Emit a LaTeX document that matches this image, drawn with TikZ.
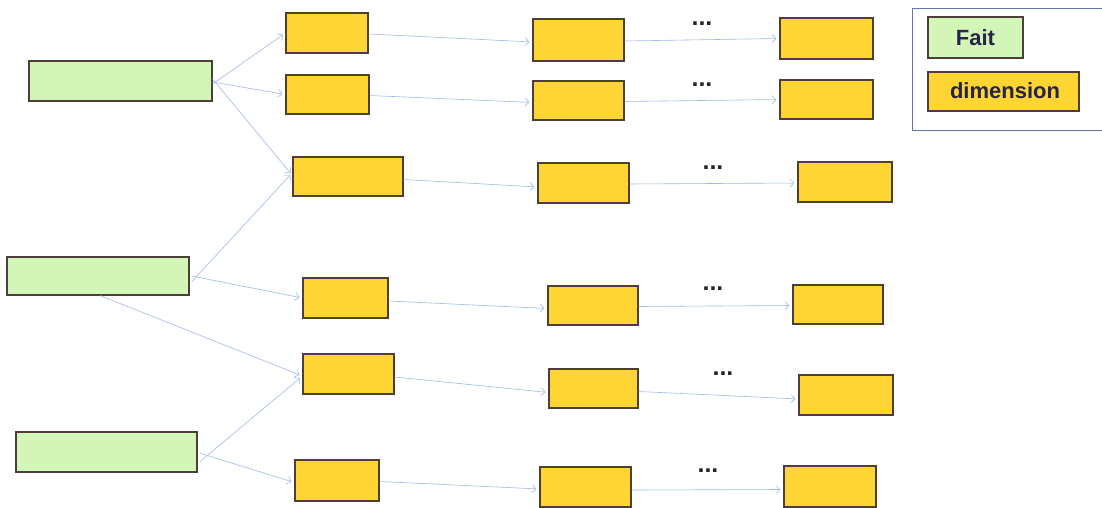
\documentclass[tikz,border=0pt]{standalone}
\usepackage{fontspec}
\newfontfamily\legfont{Liberation Sans}
\usetikzlibrary{arrows.meta}
\definecolor{faitgreen}{RGB}{212,245,184}
\definecolor{dimyellow}{RGB}{255,213,52}
\definecolor{boxline}{RGB}{78,62,56}
\definecolor{arrowblue}{RGB}{160,186,232}
\definecolor{legline}{RGB}{105,115,178}
\definecolor{legtext}{RGB}{38,36,72}
\tikzset{
  base/.style={draw=boxline, line width=1.1pt, inner sep=0pt, rectangle},
  fait/.style={base, fill=faitgreen},
  dim/.style={base, fill=dimyellow},
  conn/.style={draw=arrowblue, line width=0.6pt, -{Straight Barb[length=4pt,width=8pt,line width=0.6pt]}, shorten >=3pt},
  dots/.style={font=\legfont\bfseries\fontsize{25}{25}\selectfont, inner sep=0pt, text=black!85},
  legtxt/.style={font=\legfont\bfseries\fontsize{22}{24}\selectfont, text=legtext}
}
\newcommand{\bx}[6]{\node[#1, minimum width=#5pt, minimum height=#6pt] (#2) at (#3,#4) {};}
\begin{document}
\begin{tikzpicture}[x=1pt,y=-1pt]
\useasboundingbox (0,0) rectangle (1102,508);
\fill[white] (0,0) rectangle (1102,508);
% Fact boxes
\bx{fait}{G1}{120.5}{81}{183}{40}
\bx{fait}{G2}{98}{276}{182}{38}
\bx{fait}{G3}{106.5}{452}{181}{40}
% Column 1
\bx{dim}{Y11}{327}{33}{82}{40}
\bx{dim}{Y12}{327.5}{94.5}{83}{39}
\bx{dim}{Y13}{348}{176.5}{110}{39}
\bx{dim}{Y14}{345.5}{298}{85}{40}
\bx{dim}{Y15}{348.5}{374}{91}{40}
\bx{dim}{Y16}{337}{480.5}{84}{41}
% Column 2
\bx{dim}{Y21}{578.5}{40}{91}{42}
\bx{dim}{Y22}{578.5}{100.5}{91}{39}
\bx{dim}{Y23}{583.5}{183}{91}{40}
\bx{dim}{Y24}{593}{305.5}{90}{39}
\bx{dim}{Y25}{593.5}{388.5}{89}{39}
\bx{dim}{Y26}{585.5}{487}{91}{40}
% Column 3
\bx{dim}{Y31}{826.5}{38.5}{93}{41}
\bx{dim}{Y32}{826.5}{99.5}{93}{39}
\bx{dim}{Y33}{845}{182}{94}{40}
\bx{dim}{Y34}{838}{304.5}{90}{39}
\bx{dim}{Y35}{846}{395}{94}{40}
\bx{dim}{Y36}{830}{486.5}{92}{41}
% Dots
\node[dots] (d1) at (702,24) {...};
\node[dots] (d2) at (702,85) {...};
\node[dots] (d3) at (713,168) {...};
\node[dots] (d4) at (713,289) {...};
\node[dots] (d5) at (723,374) {...};
\node[dots] (d6) at (708,471) {...};
% Fact to dimension connectors
\draw[conn] ([yshift=-3pt]G1.east) -- (Y11.west);
\draw[conn] ([yshift=-1pt]G1.east) -- (Y12.west);
\draw[conn] ([yshift=2pt]G1.east) -- ([yshift=1pt]Y13.west);
\draw[conn] ([xshift=2pt,yshift=-6pt]G2.east) -- ([yshift=4pt]Y13.west);
\draw[conn] ([xshift=2pt]G2.east) -- (Y14.west);
\draw[conn] ([xshift=2pt]G2.south) -- ([yshift=-2pt]Y15.west);
\draw[conn] ([xshift=2pt,yshift=-10pt]G3.east) -- ([yshift=-2pt]Y15.west);
\draw[conn] ([xshift=2pt,yshift=-1pt]G3.east) -- ([yshift=-2pt]Y16.west);
% Row connectors
\draw[conn] ([yshift=-1pt]Y11.east) -- ([yshift=-2pt]Y21.west);
\draw[conn] ([yshift=-1pt]Y21.east) -- (Y31.west);
\draw[conn] ([yshift=-1pt]Y12.east) -- ([yshift=-2pt]Y22.west);
\draw[conn] ([yshift=-1pt]Y22.east) -- (Y32.west);
\draw[conn] ([yshift=-3pt]Y13.east) -- ([yshift=-4pt]Y23.west);
\draw[conn] ([yshift=-1pt]Y23.east) -- ([yshift=-1pt]Y33.west);
\draw[conn] ([yshift=-3pt]Y14.east) -- ([yshift=-3pt]Y24.west);
\draw[conn] ([yshift=-1pt]Y24.east) -- ([yshift=-1pt]Y34.west);
\draw[conn] ([yshift=-3pt]Y15.east) -- ([yshift=-4pt]Y25.west);
\draw[conn] ([yshift=-3pt]Y25.east) -- ([yshift=-4pt]Y35.west);
\draw[conn] ([yshift=-1pt]Y16.east) -- ([yshift=-2pt]Y26.west);
\draw[conn] ([yshift=-3pt]Y26.east) -- ([yshift=-3pt]Y36.west);
% Legend
\draw[legline, line width=1pt] (912,9) rectangle (1108,130);
\node[fait, minimum width=95pt, minimum height=41pt] (LF) at (975.5,37.5) {};
\node[legtxt] (LFt) at (975.5,37.5) {Fait};
\node[dim, minimum width=151pt, minimum height=39pt] (LD) at (1003.5,91.5) {};
\node[legtxt] (LDt) at (1005,90.5) {dimension};
\end{tikzpicture}
\end{document}
